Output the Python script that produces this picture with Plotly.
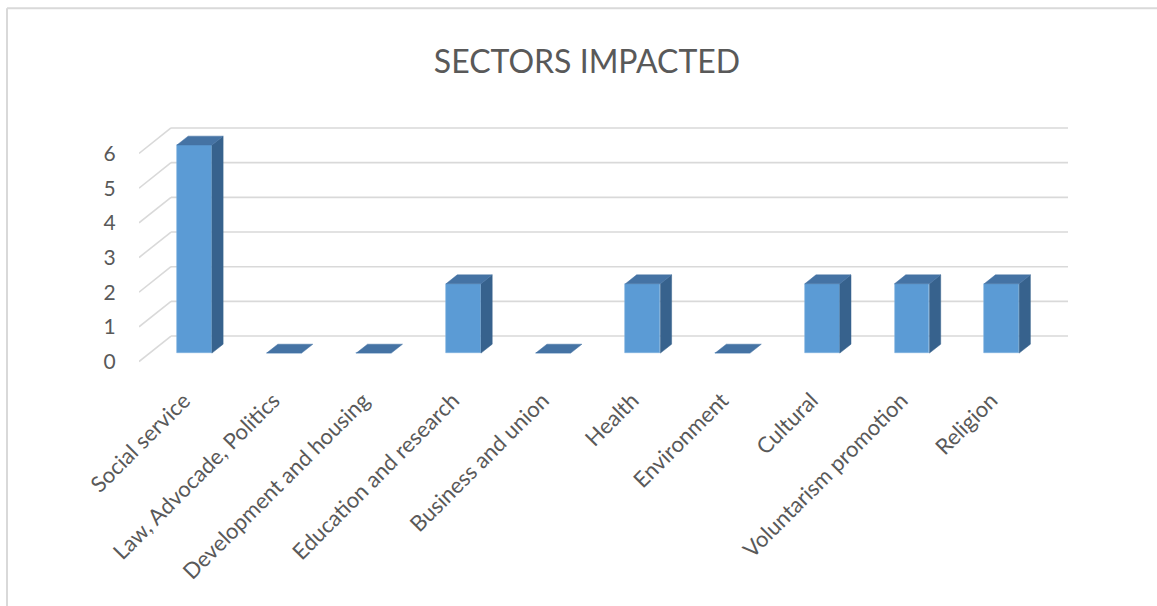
import plotly.graph_objects as go

# Chart data
categories = [
    "Social service",
    "Law, Advocade, Politics",
    "Development and housing",
    "Education and research",
    "Business and union",
    "Health",
    "Environment",
    "Cultural",
    "Voluntarism promotion",
    "Religion",
]
counts = [6, 0, 0, 2, 0, 2, 0, 2, 2, 2]
y_ticks = [0, 1, 2, 3, 4, 5, 6]

# Figure geometry (pixels)
W, H = 1157, 606
M_L, M_R, M_T, M_B = 139, 89, 123.8, 241.0
plot_w = W - M_L - M_R
plot_h = H - M_T - M_B

# Pseudo-3D depth offsets, expressed in axis units
DEPTH_X = 0.357          # category units from front floor edge to back wall
DEPTH_Y = 0.735          # value units from front floor edge to back wall
F_FRONT, F_BACK = 0.33, 0.68   # where a bar sits inside the depth
BAR_W = 0.39

X_RANGE = [-0.5, len(categories) - 0.5 + DEPTH_X]
Y_RANGE = [-0.1, 6.85]

FRONT = "#5B9BD5"
TOP = "#4573A4"
SIDE = "#37628D"
GRID = "#D9D9D9"
TEXT = "#595959"
FONT = "Lato"

fig = go.Figure()

# Front faces of the bars
x_idx = list(range(len(categories)))
fx = [i + F_FRONT * DEPTH_X for i in x_idx]
base = F_FRONT * DEPTH_Y
fig.add_trace(go.Bar(
    x=fx, y=counts, base=[base] * len(counts), width=BAR_W,
    marker=dict(color=FRONT, line=dict(color="#7DB0E0", width=0.6)),
    hoverinfo="skip", showlegend=False,
))

# Top and side faces
ddx = (F_BACK - F_FRONT) * DEPTH_X
ddy = (F_BACK - F_FRONT) * DEPTH_Y
for cx, v in zip(fx, counts):
    xl, xr = cx - BAR_W / 2, cx + BAR_W / 2
    top = v + base
    if v > 0:
        fig.add_trace(go.Scatter(
            x=[xr, xr, xr + ddx, xr + ddx, xr],
            y=[base, top, top + ddy, base + ddy, base],
            fill="toself", fillcolor=SIDE, mode="lines",
            line=dict(color=SIDE, width=0.5),
            hoverinfo="skip", showlegend=False,
        ))
    fig.add_trace(go.Scatter(
        x=[xl, xr, xr + ddx, xl + ddx, xl],
        y=[top, top, top + ddy, top + ddy, top],
        fill="toself", fillcolor=TOP, mode="lines",
        line=dict(color=TOP, width=0.5),
        hoverinfo="skip", showlegend=False,
    ))

# Gridlines on the back wall and the left side wall
shapes = []
x_back0 = X_RANGE[0] + DEPTH_X
x_back1 = X_RANGE[1]
for v in y_ticks:
    shapes.append(dict(type="line", xref="x", yref="y", layer="below",
                       x0=x_back0, x1=x_back1, y0=v + DEPTH_Y, y1=v + DEPTH_Y,
                       line=dict(color=GRID, width=1.6)))
    shapes.append(dict(type="line", xref="x", yref="y", layer="below",
                       x0=X_RANGE[0], x1=x_back0, y0=v, y1=v + DEPTH_Y,
                       line=dict(color=GRID, width=1.6)))

# Outer chart frame (left and top edges)
def px_to_paper_x(px):
    return (px - M_L) / plot_w

def px_to_paper_y(py):
    return 1 - (py - M_T) / plot_h

fx0, fy0 = px_to_paper_x(7), px_to_paper_y(8)
shapes.append(dict(type="line", xref="paper", yref="paper",
                   x0=fx0, x1=fx0, y0=fy0, y1=px_to_paper_y(H + 5),
                   line=dict(color=GRID, width=2)))
shapes.append(dict(type="line", xref="paper", yref="paper",
                   x0=fx0, x1=px_to_paper_x(W + 5), y0=fy0, y1=fy0,
                   line=dict(color=GRID, width=2)))

fig.update_layout(
    width=W, height=H,
    margin=dict(l=M_L, r=M_R, t=M_T, b=M_B, pad=0),
    paper_bgcolor="white", plot_bgcolor="white",
    font=dict(family=FONT, color=TEXT),
    title=dict(text="SECTORS IMPACTED", x=px_to_paper_x(587), xanchor="center",
               xref="paper", yref="container", y=1 - 62 / H, yanchor="middle",
               font=dict(family=FONT, size=32, color=TEXT)),
    shapes=shapes,
    bargap=0,
    xaxis=dict(
        range=X_RANGE, tickmode="array", tickvals=x_idx, ticktext=categories,
        tickangle=-45, showgrid=False, zeroline=False, showline=False,
        ticks="outside", ticklen=13, tickcolor="rgba(0,0,0,0)",
        tickfont=dict(family=FONT, size=22, color=TEXT),
    ),
    yaxis=dict(
        range=Y_RANGE, tickmode="array", tickvals=y_ticks,
        showgrid=False, zeroline=False, showline=False,
        ticks="outside", ticklen=18, tickcolor="rgba(0,0,0,0)",
        tickfont=dict(family=FONT, size=21, color=TEXT),
    ),
)

fig.write_html("out.html")
